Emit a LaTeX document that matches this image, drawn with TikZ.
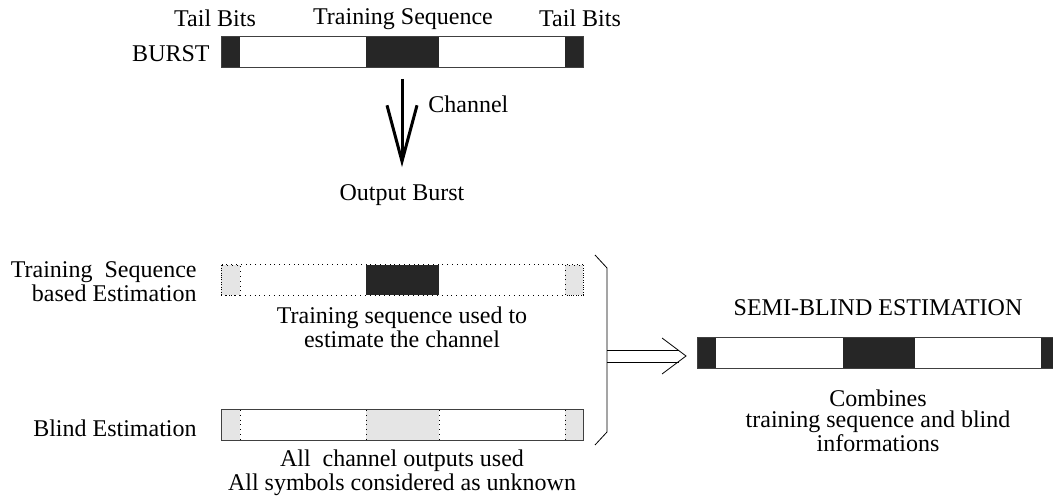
\documentclass[tikz,border=0pt]{standalone}
\usepackage{fontspec}
\setmainfont{Liberation Serif}
\usetikzlibrary{arrows.meta}

\begin{document}
\begin{tikzpicture}[x=0.5pt, y=-0.5pt,
        every node/.style={font=\fontsize{12}{10.3}\selectfont},
        lbl/.style={align=center, inner sep=0pt},
        bar/.style={minimum width=181pt, minimum height=15.5pt, inner sep=0pt, outer sep=0pt},
        dark/.style={fill=black!85},
        light/.style={fill=black!10}]
        \useasboundingbox (0, 0) rectangle (1053, 501);

        % transmitted burst
        \foreach \a/\b in {0/19, 145/218, 344/362} {
            \fill[dark] (221+\a, 36) rectangle (221+\b, 67);
        }
        \node[bar, draw=black!75] (burst) at (402, 51.5) {};
        \node[anchor=east, inner sep=0pt] (burstlbl) at (210, 54) {BURST};
        \node (tail1) at (215, 18) {Tail Bits};
        \node (trainlbl) at (403, 19) {Training Sequence};
        \node (tail2) at (580, 18) {Tail Bits};

        % channel
        \node[inner sep=0pt] (outb) at (402, 195) {Output Burst};
        \draw[line width=1.5pt, shorten <=6pt, shorten >=8.5pt, -{Straight Barb[length=28pt, width=15pt]}] (burst) -- (outb);
        \node[anchor=west, inner sep=0pt] (chan) at (428, 104) {Channel};

        % training sequence based estimation
        \foreach \a/\b in {0/19, 344/362} {
            \draw[light, dotted] (221+\a, 265) rectangle (221+\b, 295);
        }
        \fill[dark] (366, 265) rectangle (439, 295);
        \node[bar, draw, dotted] (tse) at (402, 280) {};
        \node[lbl, align=right, anchor=east] (tselbl) at (197, 282) {Training~ Sequence\\based Estimation};
        \node[lbl] (tsetxt) at (402, 327) {Training sequence used to\\estimate the channel};

        % blind estimation
        \foreach \a/\b in {0/19, 145/218, 344/362} {
            \fill[light] (221+\a, 410) rectangle (221+\b, 440);
        }
        \foreach \a in {19, 145, 218, 344} {
            \draw[dotted] (221+\a, 410) -- (221+\a, 440);
        }
        \node[bar, draw=black!75] (blind) at (402, 425) {};
        \node[lbl, anchor=east] (blindlbl) at (197, 428) {Blind Estimation};
        \node[lbl] (blindtxt) at (402, 473) {All~ channel outputs used\\All symbols considered as unknown};

        % semi-blind estimation
        \foreach \a/\b in {0/19, 146/218, 344/362} {
            \fill[dark] (697+\a, 338) rectangle (697+\b, 368);
        }
        \node[bar, draw=black!75] (semi) at (878, 353) {};
        \node (semititle) at (878, 308) {SEMI-BLIND ESTIMATION};
        \node[lbl] (semitxt) at (878, 421) {Combines\\training sequence and blind\\informations};

        % brace and double arrow
        \coordinate (brtop) at (595, 255);
        \coordinate (brbot) at (595, 445);
        \coordinate (brm) at (607, 356);
        \coordinate (dtip) at ([xshift=-5.5pt]brm -| semi.west);
        \draw (brtop) -- (607, 268) -- (607, 432) -- (brbot);
        \draw ([yshift=3pt]brm) -- ([xshift=-3.5pt, yshift=3pt]dtip);
        \draw ([yshift=-3pt]brm) -- ([xshift=-3.5pt, yshift=-3pt]dtip);
        \draw (dtip) ++(-24, -18) -- (dtip) -- ++(-24, 18);
\end{tikzpicture}
\end{document}
